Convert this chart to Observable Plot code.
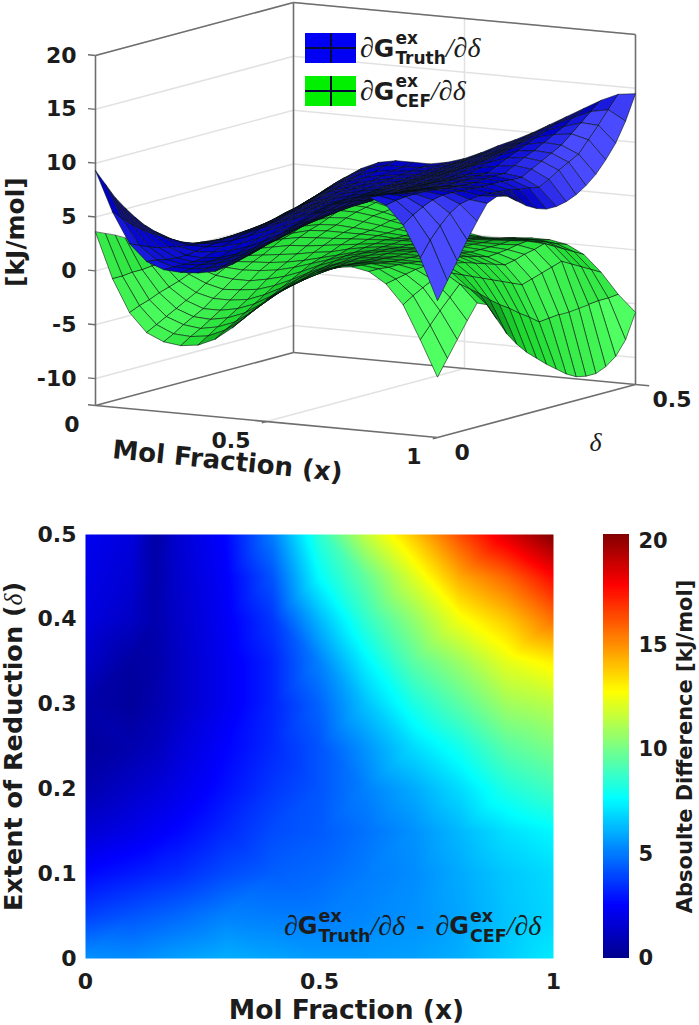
<!DOCTYPE html>
<html>
<head>
<meta charset="utf-8">
<script src="https://cdn.jsdelivr.net/npm/d3@7"></script>
<script src="https://cdn.jsdelivr.net/npm/@observablehq/plot@0.6"></script>
<style>
  html, body { margin: 0; padding: 0; background: #fff; }
  #page { position: relative; width: 699px; height: 1025px; overflow: hidden; font-family: "DejaVu Sans"; color: #1c1c1c; }
  #surfaces, #heat, #bar { position: absolute; }
  #surfaces { left: 0; top: 0; }
  #heat { left: 0; top: 520px; }
  #bar { left: 590px; top: 520px; }
  .swatch { position: absolute; left: 305px; width: 51px; height: 30px; }
  .swatch::before { content: ""; position: absolute; left: 0; right: 0; top: 14px; height: 1.5px; background: #0a0a3a; }
  .swatch::after { content: ""; position: absolute; top: 0; bottom: 0; left: 25px; width: 1.5px; background: #0a0a3a; }
  .term { position: absolute; display: flex; align-items: center; white-space: nowrap; }
  .term .d { font-family: "Liberation Serif"; font-style: italic; }
  .term b { font-weight: bold; }
  .term .stack { display: flex; flex-direction: column; font-weight: bold; }
</style>
</head>
<body>
<div id="page">
  <div id="surfaces"></div>
  <div id="heat"></div>
  <div id="bar"></div>
</div>
<script>
// grids of the two surfaces: one row per delta, one value per x
const gridX = [0,.05,.1,.15,.2,.25,.3,.35,.4,.45,.5,.55,.6,.65,.7,.75,.8,.85,.9,.95,1]
const gridD = [0,.025,.05,.075,.1,.125,.15,.175,.2,.225,.25,.275,.3,.325,.35,.375,.4,.425,.45,.475,.5]

const blueZ = [
  [9.3,5.6,2.8,1.3,.7,.6,.7,1.0,1.8,2.8,4.0,5.2,6.2,7.3,8.3,9.0,9.2,8.6,6.9,4.0,.2],
  [7.8,4.7,2.4,1.2,.7,.7,.9,1.3,2.1,3.1,4.2,5.3,6.2,7.3,8.2,8.9,9.1,8.8,7.6,5.4,1.8],
  [6.3,3.9,2.0,1.0,.7,.8,1.1,1.6,2.4,3.4,4.4,5.4,6.3,7.2,8.1,8.7,9.0,8.9,8.1,6.5,3.4],
  [5.1,3.2,1.7,.9,.7,.9,1.3,1.9,2.7,3.6,4.6,5.5,6.3,7.2,7.9,8.6,8.8,8.9,8.5,7.4,5.1],
  [4.0,2.6,1.5,.9,.8,1.0,1.5,2.2,3.0,3.9,4.8,5.6,6.4,7.1,7.8,8.4,8.7,8.9,8.7,8.0,6.6],
  [3.0,2.1,1.3,1.0,1.1,1.4,1.9,2.6,3.4,4.2,5.0,5.8,6.5,7.1,7.8,8.3,8.6,8.8,8.7,8.2,8.0],
  [2.2,1.6,1.2,1.2,1.4,1.8,2.4,3.1,3.8,4.5,5.2,5.9,6.6,7.2,7.7,8.2,8.5,8.7,8.6,8.3,8.4],
  [1.4,1.1,1.1,1.3,1.7,2.3,2.9,3.5,4.1,4.8,5.5,6.1,6.6,7.2,7.7,8.1,8.4,8.6,8.6,8.3,8.2],
  [.7,.7,1.0,1.5,2.0,2.7,3.3,3.9,4.5,5.1,5.7,6.2,6.7,7.2,7.6,8.0,8.3,8.5,8.5,8.2,7.5],
  [.2,.6,1.0,1.6,2.2,2.9,3.5,4.1,4.7,5.2,5.8,6.3,6.7,7.2,7.7,8.1,8.4,8.5,8.5,8.1,6.8],
  [-.2,.4,1.0,1.7,2.4,3.1,3.8,4.4,4.9,5.4,5.9,6.4,6.8,7.3,7.8,8.2,8.4,8.6,8.5,7.9,6.3],
  [-.5,.2,1.0,1.8,2.6,3.4,4.0,4.6,5.0,5.5,6.0,6.4,6.8,7.3,7.8,8.2,8.5,8.6,8.4,7.8,6.0],
  [-.7,.1,1.0,1.9,2.8,3.6,4.2,4.8,5.2,5.6,6.1,6.5,6.9,7.4,7.9,8.3,8.5,8.6,8.4,7.6,6.0],
  [-.8,.2,1.2,2.1,3.1,3.9,4.4,5.0,5.4,5.7,6.2,6.6,7.0,7.6,8.1,8.6,8.9,9.1,8.9,8.1,6.2],
  [-.8,.3,1.4,2.4,3.3,4.1,4.7,5.2,5.5,5.8,6.2,6.7,7.2,7.8,8.4,8.9,9.4,9.6,9.4,8.7,6.6],
  [-.7,.4,1.5,2.6,3.6,4.4,4.9,5.3,5.7,5.9,6.3,6.8,7.3,7.9,8.6,9.3,9.8,10.0,9.9,9.2,7.2],
  [-.5,.6,1.7,2.9,3.9,4.6,5.1,5.5,5.8,6.0,6.4,6.9,7.5,8.1,8.9,9.6,10.2,10.5,10.4,9.7,8.0],
  [-.2,.9,2.0,3.2,4.2,4.9,5.4,5.7,5.9,6.1,6.5,7.1,7.7,8.4,9.1,9.9,10.6,11.0,11.2,10.8,9.1],
  [.1,1.2,2.4,3.5,4.5,5.2,5.7,5.9,6.0,6.2,6.7,7.3,8.0,8.6,9.4,10.2,11.0,11.5,12.0,11.9,10.4],
  [.4,1.6,2.7,3.9,4.9,5.6,6.0,6.0,6.1,6.4,6.8,7.5,8.2,8.9,9.7,10.6,11.4,12.1,12.8,13.1,12.2],
  [.7,1.9,3.1,4.2,5.2,5.9,6.2,6.2,6.2,6.5,7.0,7.7,8.5,9.2,10.0,10.9,11.8,12.7,13.6,14.3,14.5]
]

const greenZ = [
  [3.6,-.6,-3.6,-5.3,-6.0,-6.2,-6.0,-5.3,-4.1,-2.6,-1.2,-.1,.9,1.8,2.4,2.6,2.3,1.3,-.5,-3.6,-6.9],
  [3.2,-.6,-3.2,-4.8,-5.5,-5.6,-5.4,-4.7,-3.6,-2.2,-.9,.1,1.0,1.8,2.3,2.5,2.3,1.5,.1,-2.5,-5.4],
  [2.8,-.5,-2.9,-4.3,-4.9,-5.1,-4.8,-4.2,-3.1,-1.8,-.6,.3,1.1,1.8,2.2,2.4,2.2,1.7,.6,-1.4,-3.9],
  [2.3,-.5,-2.5,-3.8,-4.4,-4.5,-4.2,-3.6,-2.6,-1.4,-.4,.5,1.2,1.7,2.1,2.2,2.2,1.9,1.1,-.4,-2.4],
  [1.8,-.4,-2.2,-3.3,-3.9,-3.9,-3.6,-3.0,-2.1,-1.0,-.1,.7,1.3,1.7,2.0,2.1,2.1,2.0,1.6,.6,-1.0],
  [1.2,-.4,-1.9,-2.8,-3.2,-3.2,-3.0,-2.4,-1.6,-.6,.2,.9,1.4,1.7,2.0,2.0,2.0,1.8,1.2,-.1,-1.4],
  [.7,-.4,-1.5,-2.2,-2.6,-2.5,-2.3,-1.8,-1.1,-.3,.4,1.0,1.5,1.7,1.9,2.0,1.9,1.6,.8,-.8,-3.0],
  [.2,-.5,-1.2,-1.7,-1.9,-1.9,-1.6,-1.2,-.6,.1,.7,1.2,1.5,1.8,1.9,1.9,1.8,1.5,.4,-1.6,-4.6],
  [-.2,-.5,-.9,-1.2,-1.3,-1.2,-1.0,-.6,-.1,.4,.9,1.3,1.6,1.8,1.9,1.9,1.7,1.3,.0,-2.3,-5.8],
  [-.6,-.6,-.8,-.9,-.8,-.7,-.5,-.2,.2,.6,1.0,1.3,1.6,1.7,1.7,1.7,1.5,1.0,-.4,-2.9,-6.8],
  [-.9,-.7,-.7,-.6,-.4,-.2,.0,.3,.5,.9,1.2,1.4,1.5,1.6,1.6,1.5,1.2,.7,-.8,-3.6,-7.6],
  [-1.2,-.9,-.6,-.2,.1,.4,.5,.7,.9,1.1,1.3,1.4,1.5,1.5,1.4,1.2,1.0,.4,-1.2,-4.2,-8.4],
  [-1.4,-1.0,-.5,.1,.6,.9,1.0,1.1,1.2,1.3,1.4,1.5,1.5,1.4,1.2,1.0,.7,.1,-1.6,-4.9,-9.1],
  [-1.6,-1.0,-.3,.4,.9,1.3,1.4,1.4,1.4,1.4,1.3,1.4,1.3,1.3,1.1,1.0,.8,.3,-1.3,-4.8,-9.8],
  [-1.7,-1.0,-.1,.6,1.3,1.6,1.7,1.6,1.5,1.4,1.3,1.2,1.2,1.1,1.1,1.0,.9,.6,-1.0,-4.7,-10.3],
  [-1.9,-1.0,.0,.9,1.6,2.0,2.1,1.9,1.7,1.5,1.3,1.1,1.0,1.0,1.0,1.0,1.1,.8,-.7,-4.7,-10.5],
  [-2.0,-1.0,.2,1.2,2.0,2.4,2.4,2.2,1.9,1.6,1.2,1.0,.9,.9,1.0,1.1,1.2,1.1,-.4,-4.6,-10.5],
  [-2.0,-.7,.6,1.6,2.3,2.7,2.6,2.3,1.9,1.4,.9,.7,.6,.7,.8,.9,.9,.6,-.9,-4.5,-10.1],
  [-1.9,-.4,.9,1.9,2.6,2.9,2.8,2.4,1.9,1.2,.7,.4,.4,.5,.6,.7,.6,.1,-1.4,-4.4,-9.4],
  [-1.8,.0,1.3,2.3,2.9,3.2,3.0,2.5,1.8,1.1,.4,.2,.1,.3,.4,.4,.2,-.4,-1.9,-4.4,-8.1],
  [-1.6,.3,1.6,2.6,3.2,3.4,3.2,2.6,1.8,.9,.2,-.1,-.1,.1,.2,.2,-.1,-.9,-2.4,-4.3,-5.8]
]

// heat map samples
const heatX = [0,.1,.15,.2,.3,.4,.5,.6,.7,.8,.9,1]
const heatD = [0,.05,.1,.15,.2,.25,.3,.35,.4,.45,.5]
const heatV = [
  [5.4,5.3,5.5,5.7,6.0,5.8,5.6,5.6,5.7,6.0,6.6,7.2],
  [3.8,4.2,4.4,4.6,5.1,5.0,5.0,5.2,5.4,5.8,6.4,6.8],
  [2.6,3.0,3.2,3.4,4.0,4.4,4.6,5.0,5.3,5.9,6.5,6.9],
  [1.5,2.0,2.3,2.6,3.3,4.0,4.3,4.8,5.4,6.2,7.0,7.5],
  [.7,1.3,1.6,2.0,2.8,3.6,4.2,5.1,5.9,6.9,8.2,8.9],
  [.3,.7,1.0,1.6,2.5,3.3,4.2,5.5,6.9,8.0,9.4,10.1],
  [.6,.3,.7,1.2,2.2,3.2,4.5,6.4,8.1,9.4,10.8,11.3],
  [1.3,.4,.6,1.2,2.2,3.2,5.1,7.4,9.4,10.7,12.2,13.0],
  [1.8,1.2,.7,1.3,2.3,3.6,6.2,8.6,10.5,12.5,13.8,15.6],
  [2.0,1.5,.6,1.4,2.4,4.2,7.6,9.6,12.0,14.4,15.8,17.7],
  [2.2,1.7,.5,1.5,2.6,5.0,8.5,11.5,13.8,16.3,18.5,20.3]
]

const barTicks = [0,5,10,15,20]
const barMax = 20.3
const jetStops = [0,2.5,7.6,12.7,17.8,20.3]
const jetColors = ["#00008f","#0000ff","#00ffff","#ffff00","#ff0000","#800000"]

const zTicks = [-10,-5,0,5,10,15,20]
const xTicks = [0,.5,1]
const dTicks = [0,.5]
const zFloor = -12.5, zTop = 20

// fixed view of the box, same for every mark of the upper plot
function project(x, d, z) {
  const w = d / .5
  return [95 + 342 * x + 198 * w, 405 + 32 * x - 53 * w - 10.77 * (z - zFloor)]
}
const link = (a, b) => ({a: project(...a), b: project(...b)})

const boxEdges = [
  link([0,0,zFloor],[1,0,zFloor]), link([1,0,zFloor],[1,.5,zFloor]),
  link([0,0,zFloor],[0,.5,zFloor]), link([0,.5,zFloor],[1,.5,zFloor]),
  link([0,0,zFloor],[0,0,zTop]), link([0,.5,zFloor],[0,.5,zTop]), link([1,.5,zFloor],[1,.5,zTop]),
  link([0,0,zTop],[0,.5,zTop]), link([0,.5,zTop],[1,.5,zTop])
]
const gridLines = [
  ...zTicks.flatMap(z => [link([0,0,z],[0,.5,z]), link([0,.5,z],[1,.5,z])]),
  link([.5,0,zFloor],[.5,.5,zFloor]), link([.5,.5,zFloor],[.5,.5,zTop])
]
const tickStubs = [
  ...zTicks.map(z => link([-.022,0,z],[0,0,z])), link([-.022,0,zFloor],[0,0,zFloor]),
  link([.5,-.012,zFloor],[.5,0,zFloor]), link([1,-.012,zFloor],[1,0,zFloor]),
  link([1.04,.5,zFloor],[1,.5,zFloor])
]

const shadeBlue = d3.scaleLinear().domain([.15,.32,.75]).range(["#12126e","#0000cc","#4a4aff"]).clamp(true)
const shadeGreen = d3.scaleLinear().domain([.15,.32,.75]).range(["#0c8f1c","#1ed830","#50ff62"]).clamp(true)

// quads of one surface, each with a shade and a depth for painter's order
function cells(table, name, shade) {
  const out = []
  const n = gridX.length, m = gridD.length
  const at = (i, j) => table[Math.max(0, Math.min(m - 1, j))][Math.max(0, Math.min(n - 1, i))]
  for (let j = 0; j < m - 1; j++) {
    for (let i = 0; i < n - 1; i++) {
      const dtdu = (at(i + 2, j) + at(i + 2, j + 1) - at(i - 1, j) - at(i - 1, j + 1)) / 2 / 32.5 / (3 / 20)
      const dtdw = (at(i, j + 2) + at(i + 1, j + 2) - at(i, j - 1) - at(i + 1, j - 1)) / 2 / 32.5 / (3 / 20)
      const len = Math.hypot(dtdu, dtdw, 1)
      // brightest where the face looks at the viewer
      const light = Math.max(0, (-dtdu * .5 + dtdw * .82 + .28) / len)
      const zMid = (at(i, j) + at(i + 1, j) + at(i, j + 1) + at(i + 1, j + 1)) / 4
      const uMid = (gridX[i] + gridX[i + 1]) / 2, wMid = (gridD[j] + gridD[j + 1])
      const depth = 198 * uMid - 342 * wMid + 69.9 * (zMid - zFloor) / 32.5
      const corners = [[i,j],[i+1,j],[i+1,j+1],[i,j+1]].map(([a, b]) => project(gridX[a], gridD[b], table[b][a]))
      out.push({id: name + i + "_" + j, depth, c: shade(light), corners})
    }
  }
  return out
}

const quads = [...cells(blueZ, "b", shadeBlue), ...cells(greenZ, "g", shadeGreen)]
  .sort((a, b) => d3.ascending(a.depth, b.depth))
const quadPoints = quads.flatMap(q => q.corners.map(p => ({id: q.id, c: q.c, sx: p[0], sy: p[1]})))

const baseStyle = {fontFamily: "DejaVu Sans", fontWeight: "bold", fontSize: "22px", color: "#1c1c1c", background: "transparent", overflow: "visible"}

const surfaces = Plot.plot({
  width: 699, height: 500, margin: 0,
  x: {domain: [0, 699], axis: null},
  y: {domain: [500, 0], axis: null},
  color: {type: "identity"},
  style: baseStyle,
  marks: [
    Plot.link(gridLines, {x1: d => d.a[0], y1: d => d.a[1], x2: d => d.b[0], y2: d => d.b[1], stroke: "#e2e2e2", strokeWidth: 1.5}),
    Plot.link(boxEdges, {x1: d => d.a[0], y1: d => d.a[1], x2: d => d.b[0], y2: d => d.b[1], stroke: "#6e6e6e", strokeWidth: 1.6}),
    Plot.link(tickStubs, {x1: d => d.a[0], y1: d => d.a[1], x2: d => d.b[0], y2: d => d.b[1], stroke: "#6e6e6e", strokeWidth: 1.4}),
    Plot.line(quadPoints, {x: "sx", y: "sy", z: "id", fill: "c", stroke: "#06100a", strokeWidth: .7, strokeOpacity: .8, curve: "linear-closed"}),
    Plot.text(zTicks, {x: z => project(0, 0, z)[0], y: z => project(0, 0, z)[1], text: d => String(d), textAnchor: "end", dx: -19, fontSize: 22}),
    Plot.text(xTicks, {x: t => project(t, 0, zFloor)[0], y: t => project(t, 0, zFloor)[1], text: d => String(d), textAnchor: "end", dx: -16, dy: 19, fontSize: 22}),
    Plot.text(dTicks, {x: t => project(1, t, zFloor)[0], y: t => project(1, t, zFloor)[1], text: d => String(d), textAnchor: "start", dx: 17, dy: 15, fontSize: 22}),
    Plot.text(["Mol Fraction (x)"], {x: () => project(.5, 0, zFloor)[0], y: () => project(.5, 0, zFloor)[1], text: d => d, dx: -39, dy: 40, rotate: 5.8, fontSize: 26}),
    Plot.text(["[kJ/mol]"], {x: () => project(0, 0, 3.6)[0], y: () => project(0, 0, 3.6)[1], text: d => d, dx: -80, rotate: -90, fontSize: 25}),
    Plot.text(["δ"], {x: () => project(1, .25, zFloor)[0], y: () => project(1, .25, zFloor)[1], text: d => d, dx: 59, dy: 32, fontSize: 26, fontFamily: "Liberation Serif", fontStyle: "italic", fontWeight: "normal"})
  ]
})
d3.select("#surfaces").append(() => surfaces)

const heatPoints = heatD.flatMap((d, j) => heatX.map((x, i) => ({x, d, v: heatV[j][i]})))
const jetScale = {type: "linear", domain: jetStops, range: jetColors, interpolate: "rgb"}

const heat = Plot.plot({
  width: 590, height: 505,
  marginLeft: 85, marginRight: 37, marginTop: 14, marginBottom: 67,
  x: {domain: [0, 1], axis: null},
  y: {domain: [0, .5], axis: null},
  color: jetScale,
  style: baseStyle,
  marks: [
    Plot.raster(heatPoints, {x: "x", y: "d", fill: "v", interpolate: "barycentric", pixelSize: 1}),
    Plot.axisX({ticks: [0, .5, 1], tickFormat: d => String(d), tickSize: 0, tickPadding: 15, label: null}),
    Plot.axisY({ticks: [0, .1, .2, .3, .4, .5], tickFormat: d => String(d), tickSize: 0, tickPadding: 9, label: null}),
    Plot.text(["Mol Fraction (x)"], {frameAnchor: "bottom", text: d => d, dx: 27, dy: 60, fontSize: 26.5}),
    Plot.text(["Extent of Reduction (δ)"], {frameAnchor: "left", textAnchor: "middle", text: d => d, dx: -72, rotate: -90, fontSize: 25.5})
  ]
})
d3.select(heat).selectAll("text").filter(function() { return this.textContent.includes("(δ)") })
  .html('Extent of Reduction (<tspan font-family="Liberation Serif" font-style="italic" font-weight="normal">δ</tspan>)')
d3.select("#heat").append(() => heat)

const bar = Plot.plot({
  width: 109, height: 505,
  marginLeft: 13, marginRight: 70, marginTop: 14, marginBottom: 67,
  x: {domain: [0, 1], axis: null},
  y: {domain: [0, barMax], axis: null},
  color: jetScale,
  style: {...baseStyle, fontSize: "21px"},
  marks: [
    Plot.rect(d3.range(0, barMax, .1), {x1: 0, x2: 1, y1: d => d, y2: d => Math.min(d + .11, barMax), fill: d => d, shapeRendering: "crispEdges"}),
    Plot.axisY({anchor: "right", ticks: barTicks, tickFormat: d => String(d), tickSize: 0, tickPadding: 9, label: null}),
    Plot.text(["Absoulte Difference [kJ/mol]"], {frameAnchor: "right", textAnchor: "middle", text: d => d, dx: 56, rotate: -90, fontSize: 21})
  ]
})
d3.select("#bar").append(() => bar)

// legend and the note inside the heat map
function term(sub) {
  return `<span class="d" style="font-size:var(--d)">∂</span><b style="font-size:var(--g)">G</b>` +
    `<span class="stack" style="font-size:var(--s);line-height:var(--l);margin-left:1px"><span>ex</span><span>${sub}</span></span>` +
    `<span class="d" style="font-size:var(--d)">/∂δ</span>`
}
function addTerm(html, left, top, sizes) {
  d3.select("#page").append("div").attr("class", "term")
    .style("left", left + "px").style("top", top + "px")
    .style("--d", sizes[0] + "px").style("--g", sizes[1] + "px").style("--s", sizes[2] + "px").style("--l", sizes[3] + "px")
    .html(html)
}
d3.select("#page").append("div").attr("class", "swatch").style("top", "33px").style("background", "#0000f5")
d3.select("#page").append("div").attr("class", "swatch").style("top", "76px").style("background", "#00f000")
addTerm(term("Truth"), 360, 28, [28, 25, 17, 20])
addTerm(term("CEF"), 360, 71, [28, 25, 17, 20])
addTerm(term("Truth") + `<b style="font-size:20px;margin:0 11px">-</b>` + term("CEF"), 284, 906, [28, 24, 17.5, 20])
</script>
</body>
</html>
